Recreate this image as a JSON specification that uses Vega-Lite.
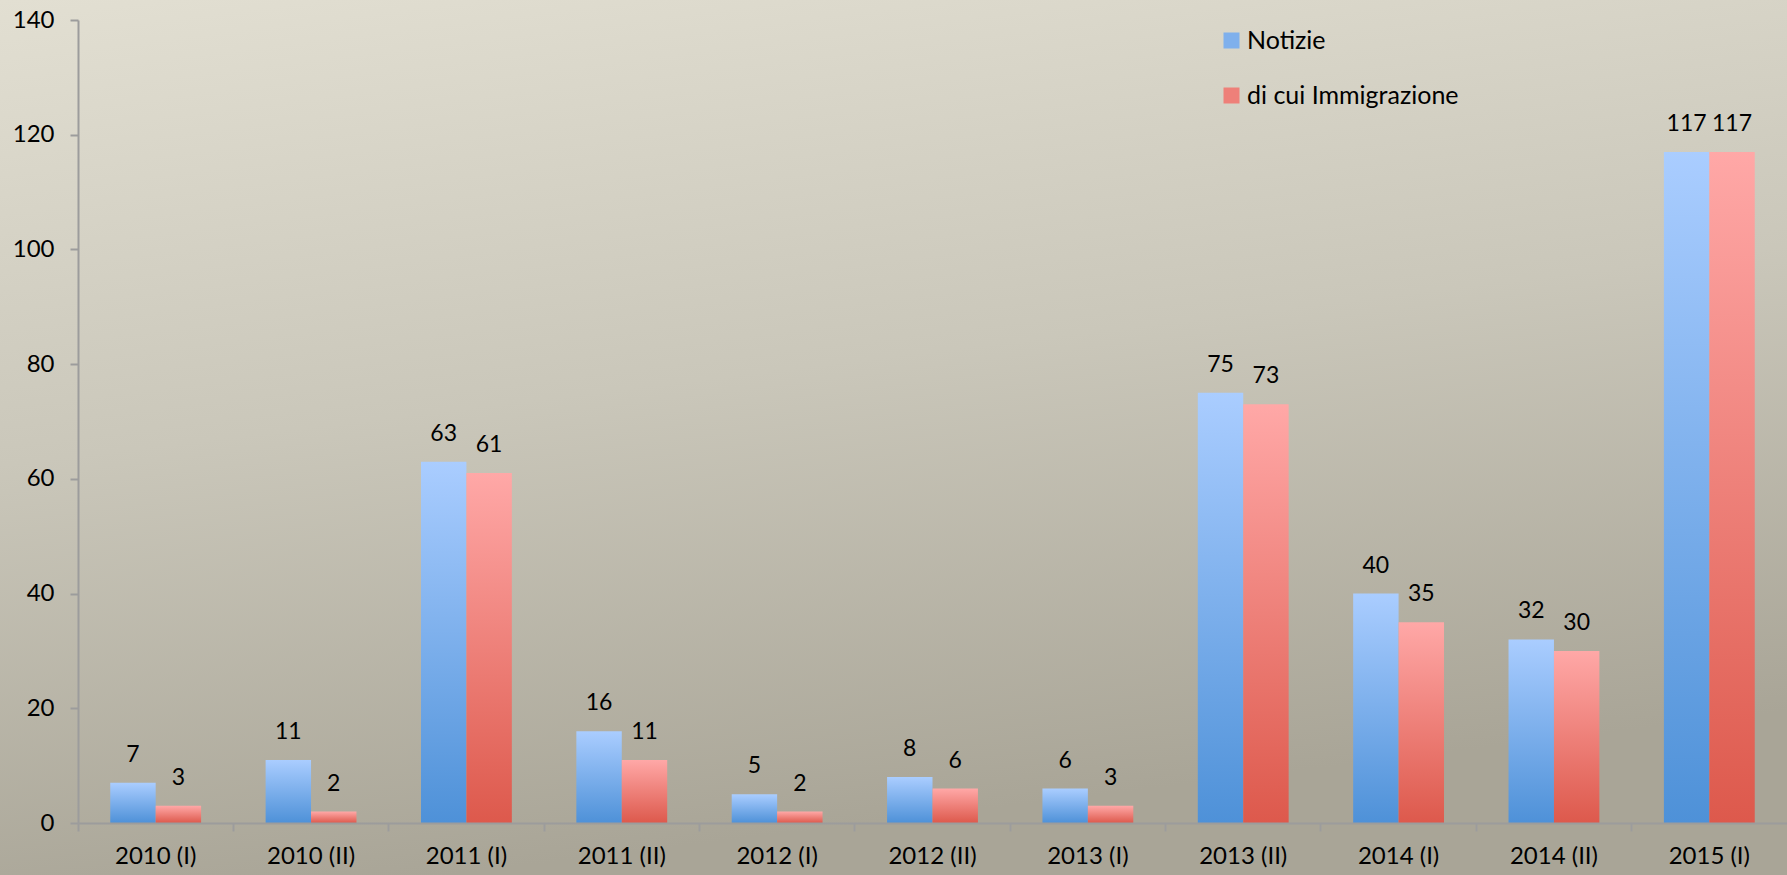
{
  "$schema": "https://vega.github.io/schema/vega-lite/v6.json",
  "width": 1709,
  "height": 803,
  "autosize": {"type": "none"},
  "padding": {"left": 78, "top": 20, "right": 0, "bottom": 52},
  "background": "#c8c5b8",
  "config": {
    "view": {"stroke": null},
    "font": "Lato",
    "axis": {"labelFont": "Lato", "labelFontSize": 24, "labelColor": "#000000", "domainColor": "#9c9c9c", "tickColor": "#9c9c9c", "domainWidth": 2, "tickWidth": 2, "grid": false, "title": null}
  },
  "layer": [
    {
      "data": {"values": [{"bg": 1}]},
      "mark": {"type": "rect", "fill": {"gradient": "linear", "x1": 0, "y1": 0, "x2": 0.25, "y2": 1, "stops": [{"offset": 0, "color": "#e2dfd2"}, {"offset": 0.5, "color": "#cac7ba"}, {"offset": 1, "color": "#a9a597"}]}},
      "encoding": {
        "x": {"value": -78},
        "x2": {"value": 1709},
        "y": {"value": -20},
        "y2": {"value": 855}
      }
    },
    {
      "data": {"name": "bars"},
      "mark": {"type": "bar"},
      "encoding": {
        "x": {"field": "periodo", "type": "nominal", "sort": null,
              "scale": {"paddingInner": 0, "paddingOuter": 0},
              "axis": {"zindex": 1, "labelAngle": 0, "bandPosition": 0, "tickSize": 8, "labelPadding": 13, "labelOverlap": false, "labelBound": false}},
        "xOffset": {"field": "serie", "type": "nominal", "sort": ["Notizie", "di cui Immigrazione"],
                    "scale": {"paddingInner": 0, "paddingOuter": 0.71}},
        "y": {"field": "valore", "type": "quantitative",
              "scale": {"domain": [0, 140], "nice": false},
              "axis": {"zindex": 1, "values": [0, 20, 40, 60, 80, 100, 120, 140], "tickSize": 8, "labelPadding": 16}},
        "fill": {
          "condition": {"test": "datum.serie === 'Notizie'",
                        "value": {"gradient": "linear", "x1": 0, "y1": 0, "x2": 0, "y2": 1, "stops": [{"offset": 0, "color": "#aacdff"}, {"offset": 1, "color": "#4e91d8"}]}},
          "value": {"gradient": "linear", "x1": 0, "y1": 0, "x2": 0, "y2": 1, "stops": [{"offset": 0, "color": "#ffa8a7"}, {"offset": 1, "color": "#dd594c"}]}
        }
      }
    },
    {
      "data": {"name": "bars"},
      "mark": {"type": "bar"},
      "encoding": {
        "y": {"datum": 0, "type": "quantitative"},
        "y2": {"datum": 0},
        "color": {"field": "serie", "type": "nominal",
                  "scale": {"domain": ["Notizie", "di cui Immigrazione"], "range": ["#7fb0ec", "#ee8079"]},
                  "legend": {"title": null, "orient": "none", "legendX": 1141, "legendY": 8, "symbolType": "square", "symbolSize": 256, "symbolStrokeWidth": 0, "labelFont": "Lato", "labelFontSize": 25, "labelColor": "#000000", "labelOffset": 3, "labelLimit": 400, "rowPadding": 29, "direction": "vertical"}}
      }
    },
    {
      "data": {"name": "bars"},
      "mark": {"type": "text", "baseline": "middle", "align": "center", "dy": -28, "fontSize": 23, "font": "Lato", "color": "#000000"},
      "encoding": {
        "x": {"field": "periodo", "type": "nominal", "sort": null},
        "xOffset": {"field": "serie", "type": "nominal", "sort": ["Notizie", "di cui Immigrazione"]},
        "y": {"field": "valore", "type": "quantitative"},
        "text": {"field": "valore", "type": "quantitative"}
      }
    }
  ],
  "datasets": {
    "bars": [
      {"periodo": "2010 (I)", "serie": "Notizie", "valore": 7},
      {"periodo": "2010 (I)", "serie": "di cui Immigrazione", "valore": 3},
      {"periodo": "2010 (II)", "serie": "Notizie", "valore": 11},
      {"periodo": "2010 (II)", "serie": "di cui Immigrazione", "valore": 2},
      {"periodo": "2011 (I)", "serie": "Notizie", "valore": 63},
      {"periodo": "2011 (I)", "serie": "di cui Immigrazione", "valore": 61},
      {"periodo": "2011 (II)", "serie": "Notizie", "valore": 16},
      {"periodo": "2011 (II)", "serie": "di cui Immigrazione", "valore": 11},
      {"periodo": "2012 (I)", "serie": "Notizie", "valore": 5},
      {"periodo": "2012 (I)", "serie": "di cui Immigrazione", "valore": 2},
      {"periodo": "2012 (II)", "serie": "Notizie", "valore": 8},
      {"periodo": "2012 (II)", "serie": "di cui Immigrazione", "valore": 6},
      {"periodo": "2013 (I)", "serie": "Notizie", "valore": 6},
      {"periodo": "2013 (I)", "serie": "di cui Immigrazione", "valore": 3},
      {"periodo": "2013 (II)", "serie": "Notizie", "valore": 75},
      {"periodo": "2013 (II)", "serie": "di cui Immigrazione", "valore": 73},
      {"periodo": "2014 (I)", "serie": "Notizie", "valore": 40},
      {"periodo": "2014 (I)", "serie": "di cui Immigrazione", "valore": 35},
      {"periodo": "2014 (II)", "serie": "Notizie", "valore": 32},
      {"periodo": "2014 (II)", "serie": "di cui Immigrazione", "valore": 30},
      {"periodo": "2015 (I)", "serie": "Notizie", "valore": 117},
      {"periodo": "2015 (I)", "serie": "di cui Immigrazione", "valore": 117}
    ]
  }
}
